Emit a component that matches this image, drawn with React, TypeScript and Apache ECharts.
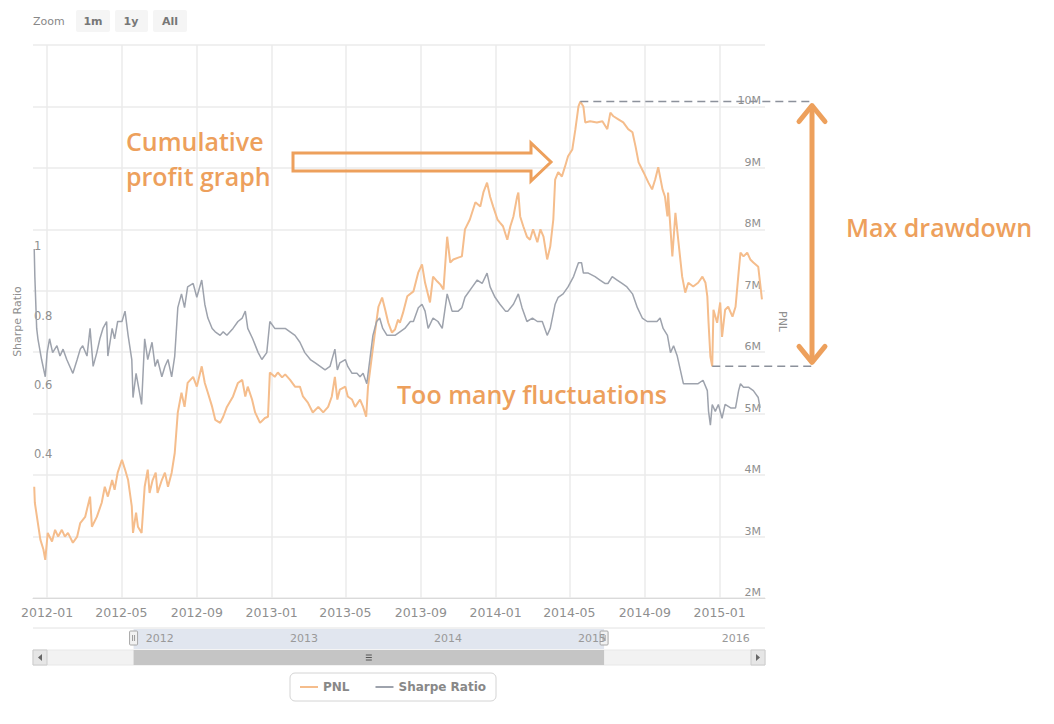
import React, { useEffect, useRef } from 'react';
import * as echarts from 'echarts';

// ---------- data ----------
const pnlDates = [
  '2011-12-11','2011-12-12','2011-12-21','2011-12-26','2011-12-29','2012-01-02','2012-01-09','2012-01-14','2012-01-19','2012-01-25',
  '2012-01-30','2012-02-04','2012-02-12','2012-02-19','2012-02-24','2012-03-03','2012-03-11','2012-03-14','2012-03-22','2012-03-30',
  '2012-04-04','2012-04-09','2012-04-16','2012-04-20','2012-04-25','2012-05-02','2012-05-07','2012-05-12','2012-05-18','2012-05-20',
  '2012-05-25','2012-05-28','2012-06-03','2012-06-08','2012-06-13','2012-06-16','2012-06-21','2012-06-26','2012-06-29','2012-07-06',
  '2012-07-11','2012-07-16','2012-07-22','2012-07-27','2012-08-01','2012-08-07','2012-08-12','2012-08-17','2012-08-26','2012-09-01',
  '2012-09-09','2012-09-14','2012-09-19','2012-09-26','2012-10-01','2012-10-09','2012-10-14','2012-10-20','2012-10-30','2012-11-07',
  '2012-11-14','2012-11-19','2012-11-23','2012-11-30','2012-12-05','2012-12-13','2012-12-21','2012-12-26','2012-12-29','2013-01-06',
  '2013-01-11','2013-01-18','2013-01-23','2013-01-31','2013-02-08','2013-02-16','2013-02-21','2013-03-01','2013-03-09','2013-03-18',
  '2013-03-26','2013-04-03','2013-04-09','2013-04-14','2013-04-18','2013-04-22','2013-05-01','2013-05-05','2013-05-12','2013-05-17',
  '2013-05-25','2013-05-30','2013-06-04','2013-06-07','2013-06-14','2013-06-19','2013-06-24','2013-06-30','2013-07-05','2013-07-10',
  '2013-07-16','2013-07-21','2013-07-26','2013-07-29','2013-08-03','2013-08-10','2013-08-20','2013-08-28','2013-09-03','2013-09-08',
  '2013-09-16','2013-09-21','2013-09-28','2013-10-03','2013-10-08','2013-10-14','2013-10-19','2013-10-24','2013-11-01','2013-11-07',
  '2013-11-12','2013-11-20','2013-11-29','2013-12-07','2013-12-12','2013-12-18','2013-12-23','2013-12-28','2014-01-04','2014-01-08',
  '2014-01-13','2014-01-20','2014-01-25','2014-01-30','2014-02-05','2014-02-07','2014-02-10','2014-02-15','2014-02-21','2014-02-26',
  '2014-03-03','2014-03-10','2014-03-15','2014-03-20','2014-03-26','2014-03-31','2014-04-05','2014-04-08','2014-04-13','2014-04-19',
  '2014-04-24','2014-04-29','2014-05-06','2014-05-11','2014-05-16','2014-05-19','2014-05-24','2014-05-27','2014-06-04','2014-06-15',
  '2014-06-24','2014-07-02','2014-07-07','2014-07-12','2014-07-20','2014-07-28','2014-08-05','2014-08-12','2014-08-17','2014-08-22',
  '2014-08-30','2014-09-07','2014-09-13','2014-09-18','2014-09-23','2014-09-30','2014-10-04','2014-10-08','2014-10-09','2014-10-13',
  '2014-10-16','2014-10-21','2014-10-26','2014-11-01','2014-11-06','2014-11-11','2014-11-19','2014-11-27','2014-12-04','2014-12-09',
  '2014-12-12','2014-12-14','2014-12-17','2014-12-20','2014-12-22','2014-12-28','2015-01-02','2015-01-05','2015-01-10','2015-01-15',
  '2015-01-22','2015-01-27','2015-02-01','2015-02-04','2015-02-09','2015-02-15','2015-02-20','2015-02-25','2015-03-05','2015-03-08',
  '2015-03-11',
];
// PNL in millions
const pnlValues = [
  3.81,3.55,2.95,2.79,2.62,3.06,2.92,3.11,3.00,3.11,
  3.00,3.06,2.90,3.00,3.22,3.32,3.65,3.16,3.32,3.55,
  3.81,3.65,3.92,3.76,4.04,4.25,4.09,3.92,3.49,3.06,
  3.39,3.16,3.06,3.81,4.09,3.71,3.92,4.04,3.71,3.92,
  4.04,3.81,4.04,4.36,5.02,5.34,5.11,5.50,5.60,5.44,
  5.77,5.50,5.34,5.11,4.90,4.85,4.95,5.11,5.28,5.50,
  5.55,5.28,5.44,5.23,5.02,4.85,4.93,4.95,5.67,5.60,
  5.67,5.59,5.64,5.55,5.44,5.44,5.28,5.18,5.02,5.11,
  5.02,5.11,5.28,5.60,5.23,5.39,5.44,5.28,5.23,5.11,
  5.23,5.11,4.95,5.44,5.99,6.37,6.74,6.89,6.69,6.48,
  6.32,6.37,6.53,6.48,6.64,6.91,6.99,7.30,7.43,7.13,
  6.81,7.23,7.15,7.10,7.02,7.88,7.46,7.51,7.54,7.56,
  8.00,8.16,8.44,8.37,8.60,8.76,8.53,8.37,8.16,8.11,
  8.05,7.83,8.05,8.21,8.53,8.60,8.21,8.05,7.88,7.83,
  8.00,7.79,8.00,7.88,7.51,7.72,8.16,8.81,8.93,8.86,
  9.02,9.19,9.30,9.63,10.00,10.08,10.00,9.74,9.76,9.74,
  9.76,9.63,9.90,9.84,9.79,9.74,9.63,9.58,9.35,9.09,
  8.93,8.76,8.65,8.81,9.01,8.65,8.53,8.21,8.60,8.00,
  7.56,8.27,7.79,7.23,6.97,7.13,7.07,7.13,7.23,7.13,
  6.91,6.48,5.93,5.77,6.69,6.48,6.81,6.25,6.69,6.74,
  6.58,6.74,7.30,7.62,7.56,7.62,7.51,7.46,7.39,7.13,
  6.86,
];

const sharpeDates = [
  '2011-12-11','2011-12-12','2011-12-15','2011-12-17','2011-12-23','2011-12-29','2012-01-01','2012-01-05','2012-01-10','2012-01-17',
  '2012-01-22','2012-01-27','2012-02-02','2012-02-07','2012-02-12','2012-02-19','2012-02-24','2012-02-28','2012-03-06','2012-03-11',
  '2012-03-16','2012-03-22','2012-03-27','2012-04-01','2012-04-07','2012-04-09','2012-04-16','2012-04-20','2012-04-25','2012-05-02',
  '2012-05-07','2012-05-12','2012-05-18','2012-05-20','2012-05-25','2012-05-28','2012-06-03','2012-06-08','2012-06-13','2012-06-20',
  '2012-06-25','2012-06-29','2012-07-06','2012-07-11','2012-07-16','2012-07-22','2012-07-27','2012-08-01','2012-08-07','2012-08-12',
  '2012-08-17','2012-08-26','2012-09-01','2012-09-09','2012-09-14','2012-09-19','2012-09-26','2012-10-01','2012-10-09','2012-10-14',
  '2012-10-20','2012-10-30','2012-11-07','2012-11-14','2012-11-19','2012-11-23','2012-12-01','2012-12-10','2012-12-16','2012-12-24',
  '2012-12-29','2013-01-06','2013-01-15','2013-01-23','2013-01-31','2013-02-08','2013-02-16','2013-02-24','2013-03-05','2013-03-13',
  '2013-03-21','2013-03-29','2013-04-06','2013-04-14','2013-04-18','2013-04-22','2013-05-01','2013-05-05','2013-05-12','2013-05-20',
  '2013-05-25','2013-05-30','2013-06-05','2013-06-10','2013-06-15','2013-06-21','2013-06-26','2013-07-01','2013-07-08','2013-07-16',
  '2013-07-21','2013-07-29','2013-08-06','2013-08-15','2013-08-20','2013-08-28','2013-09-03','2013-09-08','2013-09-13','2013-09-21',
  '2013-09-29','2013-10-06','2013-10-14','2013-10-22','2013-11-01','2013-11-07','2013-11-12','2013-11-24','2013-12-02','2013-12-10',
  '2013-12-18','2013-12-23','2013-12-31','2014-01-08','2014-01-17','2014-01-21','2014-01-30','2014-02-07','2014-02-13','2014-02-21',
  '2014-03-02','2014-03-10','2014-03-18','2014-03-26','2014-03-31','2014-04-08','2014-04-13','2014-04-21','2014-04-29','2014-05-08',
  '2014-05-16','2014-05-21','2014-05-24','2014-06-01','2014-06-12','2014-06-20','2014-06-28','2014-07-03','2014-07-10','2014-07-18',
  '2014-07-26','2014-08-03','2014-08-12','2014-08-20','2014-08-28','2014-09-05','2014-09-13','2014-09-21','2014-09-26','2014-10-01',
  '2014-10-08','2014-10-13','2014-10-18','2014-10-24','2014-10-29','2014-11-03','2014-11-11','2014-11-19','2014-11-27','2014-12-05',
  '2014-12-12','2014-12-14','2014-12-17','2014-12-20','2014-12-25','2014-12-30','2015-01-05','2015-01-10','2015-01-19','2015-01-27',
  '2015-02-01','2015-02-04','2015-02-09','2015-02-17','2015-02-25','2015-03-05','2015-03-08',
];
const sharpeValues = [
  1.01,0.93,0.78,0.75,0.69,0.64,0.71,0.75,0.71,0.73,
  0.70,0.72,0.69,0.67,0.65,0.69,0.72,0.73,0.70,0.78,
  0.67,0.71,0.75,0.78,0.80,0.70,0.78,0.75,0.80,0.80,
  0.83,0.76,0.69,0.58,0.65,0.62,0.56,0.75,0.69,0.74,
  0.67,0.69,0.64,0.67,0.69,0.64,0.70,0.84,0.88,0.84,
  0.90,0.91,0.87,0.92,0.85,0.81,0.78,0.77,0.76,0.77,
  0.76,0.78,0.80,0.81,0.83,0.78,0.75,0.71,0.69,0.71,
  0.80,0.78,0.78,0.78,0.77,0.76,0.74,0.71,0.69,0.68,
  0.67,0.66,0.67,0.72,0.66,0.68,0.69,0.67,0.65,0.65,
  0.64,0.65,0.62,0.69,0.76,0.80,0.81,0.78,0.76,0.76,
  0.76,0.77,0.78,0.80,0.80,0.84,0.85,0.83,0.78,0.81,
  0.80,0.78,0.88,0.83,0.83,0.84,0.87,0.90,0.92,0.91,
  0.94,0.90,0.87,0.85,0.83,0.83,0.85,0.88,0.84,0.80,
  0.81,0.80,0.80,0.76,0.78,0.85,0.87,0.88,0.90,0.93,
  0.97,0.97,0.94,0.94,0.93,0.92,0.91,0.91,0.93,0.92,
  0.91,0.90,0.88,0.84,0.81,0.80,0.80,0.80,0.81,0.78,
  0.76,0.71,0.73,0.70,0.66,0.62,0.62,0.62,0.62,0.63,
  0.60,0.54,0.50,0.56,0.54,0.56,0.52,0.56,0.55,0.55,
  0.60,0.62,0.61,0.61,0.60,0.58,0.55,
];

const xTicks = ['2012-01-01','2012-05-01','2012-09-01','2013-01-01','2013-05-01','2013-09-01','2014-01-01','2014-05-01','2014-09-01','2015-01-01'];
const sharpeTicks = [0.4, 0.6, 0.8, 1];
const navTicks = ['2012-01-01','2013-01-01','2014-01-01','2015-01-01','2016-01-01'];
const X_MIN = '2011-12-09';
const X_MAX = '2015-03-16';
const NAV_MIN = '2011-03-29';
const NAV_MAX = '2016-04-27';

const PNL_COLOR = '#f5bd8c';
const SHARPE_COLOR = '#9ea3ad';
const ANN = '#EDA05C';
const LABEL = '#8f8f8f';
const FONT = '"DejaVu Sans", sans-serif';
const ANN_FONT = '600 25px "Open Sans", sans-serif';

const pad = (n: number) => (n < 10 ? '0' + n : '' + n);
const T = (s: string) => (echarts as any).number.parseDate(s).getTime();

export default function App() {
  const ref = useRef<HTMLDivElement>(null);

  useEffect(() => {
    if (!ref.current) return;
    const chart = echarts.init(ref.current, null, { renderer: 'svg' });

    const option: any = {
      animation: false,
      backgroundColor: '#ffffff',
      textStyle: { fontFamily: FONT },
      legend: {
        data: ['PNL', 'Sharpe Ratio'],
        left: 290,
        top: 673,
        orient: 'horizontal',
        icon: 'rect',
        borderColor: '#d4d4d4',
        borderWidth: 1,
        borderRadius: 5,
        padding: [8, 10],
        itemWidth: 18,
        itemHeight: 2,
        itemGap: 26,
        textStyle: { color: '#888', fontWeight: 'bold', fontSize: 12, fontFamily: FONT },
      },
      grid: [
        { left: 33, right: 289, top: 45, bottom: 126 },
        { left: 33, right: 289, top: 628, height: 21 },
      ],
      xAxis: [
        {
          type: 'value',
          gridIndex: 0,
          min: T(X_MIN),
          max: T(X_MAX),
          axisLine: { show: true, lineStyle: { color: '#dadada' } },
          axisTick: { show: false, customValues: xTicks.map(T) },
          axisLabel: {
            customValues: xTicks.map(T),
            color: LABEL,
            fontSize: 12.5,
            margin: 8,
            formatter: (v: number) => {
              const d = new Date(v);
              return d.getFullYear() + '-' + pad(d.getMonth() + 1);
            },
          },
          splitLine: { show: true, lineStyle: { color: '#ebebeb', width: 1.5 } },
        },
        {
          type: 'value',
          gridIndex: 1,
          min: T(NAV_MIN),
          max: T(NAV_MAX),
          position: 'top',
          axisLine: { show: false },
          axisTick: { show: false, customValues: navTicks.map(T) },
          splitLine: { show: false },
          axisLabel: {
            inside: true,
            customValues: navTicks.map(T),
            align: 'left',
            margin: 5,
            padding: [0, 0, 0, 3],
            color: '#999',
            fontSize: 11,
            formatter: (v: number) => String(new Date(v).getFullYear()),
          },
        },
      ],
      yAxis: [
        {
          type: 'value',
          gridIndex: 0,
          position: 'left',
          min: 0,
          max: 1.6,
          axisLine: { show: false },
          axisTick: { show: false, customValues: sharpeTicks },
          splitLine: { show: false },
          axisLabel: {
            inside: true,
            customValues: sharpeTicks,
            margin: 1,
            verticalAlign: 'bottom',
            color: LABEL,
            fontSize: 11.5,
          },
          name: 'Sharpe Ratio',
          nameLocation: 'middle',
          nameRotate: 90,
          nameGap: 10,
          nameTextStyle: { color: LABEL, fontSize: 11 },
        },
        {
          type: 'value',
          gridIndex: 0,
          position: 'right',
          min: 2,
          max: 11,
          interval: 1,
          axisLine: { show: false },
          axisTick: { show: false },
          splitLine: { show: true, lineStyle: { color: '#ebebeb', width: 1.5 } },
          axisLabel: {
            inside: true,
            margin: 4,
            verticalAlign: 'bottom',
            showMaxLabel: false,
            color: LABEL,
            fontSize: 11,
            formatter: (v: number) => v + 'M',
          },
          name: 'PNL',
          nameLocation: 'middle',
          nameRotate: -90,
          nameGap: 12,
          nameTextStyle: { color: LABEL, fontSize: 11 },
        },
        { type: 'value', gridIndex: 1, show: false, min: 0, max: 1 },
      ],
      series: [
        {
          name: 'PNL',
          type: 'line',
          xAxisIndex: 0,
          yAxisIndex: 1,
          symbol: 'none',
          color: PNL_COLOR,
          lineStyle: { color: PNL_COLOR, width: 2 },
          data: pnlDates.map((d, i) => [T(d), pnlValues[i]]),
        },
        {
          name: 'Sharpe Ratio',
          type: 'line',
          xAxisIndex: 0,
          yAxisIndex: 0,
          symbol: 'none',
          color: SHARPE_COLOR,
          lineStyle: { color: SHARPE_COLOR, width: 1.5 },
          data: sharpeDates.map((d, i) => [T(d), sharpeValues[i]]),
        },
      ],
    };

    chart.setOption(option);

    const bandL = chart.convertToPixel({ xAxisIndex: 1 } as any, T(X_MIN)) as number;
    const bandR = chart.convertToPixel({ xAxisIndex: 1 } as any, T(X_MAX)) as number;

    let pi = 0;
    pnlValues.forEach((v, i) => { if (v > pnlValues[pi]) pi = i; });
    let ti = pi;
    for (let i = pi; i < pnlValues.length; i++) if (pnlValues[i] < pnlValues[ti]) ti = i;
    const peak = chart.convertToPixel({ seriesIndex: 0 }, [T(pnlDates[pi]), pnlValues[pi]]) as number[];
    const trough = chart.convertToPixel({ seriesIndex: 0 }, [T(pnlDates[ti]), pnlValues[ti]]) as number[];
    const AX = 812;
    const mid = (bandL + bandR) / 2;

    const els: any[] = [
      // range selector
      { type: 'text', x: 33, y: 21, style: { text: 'Zoom', fill: '#888', font: '11px ' + FONT, verticalAlign: 'middle' } },
      { type: 'rect', shape: { x: 76, y: 10, width: 34, height: 22, r: 2 }, style: { fill: '#f5f5f5' } },
      { type: 'rect', shape: { x: 115, y: 10, width: 33, height: 22, r: 2 }, style: { fill: '#f5f5f5' } },
      { type: 'rect', shape: { x: 153, y: 10, width: 34, height: 22, r: 2 }, style: { fill: '#f5f5f5' } },
      { type: 'text', x: 93, y: 21, style: { text: '1m', fill: '#777', font: 'bold 11px ' + FONT, align: 'center', verticalAlign: 'middle' } },
      { type: 'text', x: 131, y: 21, style: { text: '1y', fill: '#777', font: 'bold 11px ' + FONT, align: 'center', verticalAlign: 'middle' } },
      { type: 'text', x: 170, y: 21, style: { text: 'All', fill: '#777', font: 'bold 11px ' + FONT, align: 'center', verticalAlign: 'middle' } },

      // navigator
      { type: 'line', shape: { x1: 33, y1: 628, x2: 765, y2: 628 }, style: { stroke: '#e2e2e2', lineWidth: 1 } },
      { type: 'rect', z: -1, shape: { x: bandL, y: 629, width: bandR - bandL, height: 20 }, style: { fill: '#e1e6ef' } },
      { type: 'rect', shape: { x: bandL - 4, y: 631, width: 8, height: 14, r: 1 }, style: { fill: '#f2f2f2', stroke: '#a8a8a8', lineWidth: 1 } },
      { type: 'rect', shape: { x: bandR - 4, y: 631, width: 8, height: 14, r: 1 }, style: { fill: '#f2f2f2', stroke: '#a8a8a8', lineWidth: 1 } },
      { type: 'line', shape: { x1: bandL - 1, y1: 635, x2: bandL - 1, y2: 641 }, style: { stroke: '#999', lineWidth: 1 } },
      { type: 'line', shape: { x1: bandL + 1, y1: 635, x2: bandL + 1, y2: 641 }, style: { stroke: '#999', lineWidth: 1 } },
      { type: 'line', shape: { x1: bandR - 1, y1: 635, x2: bandR - 1, y2: 641 }, style: { stroke: '#999', lineWidth: 1 } },
      { type: 'line', shape: { x1: bandR + 1, y1: 635, x2: bandR + 1, y2: 641 }, style: { stroke: '#999', lineWidth: 1 } },

      // scrollbar
      { type: 'rect', shape: { x: 33, y: 650, width: 732, height: 15 }, style: { fill: '#f2f2f2', stroke: '#e8e8e8', lineWidth: 1 } },
      { type: 'rect', shape: { x: bandL, y: 650, width: bandR - bandL, height: 15 }, style: { fill: '#c5c5c5' } },
      { type: 'line', shape: { x1: mid - 3, y1: 655, x2: mid + 3, y2: 655 }, style: { stroke: '#555', lineWidth: 1 } },
      { type: 'line', shape: { x1: mid - 3, y1: 657.5, x2: mid + 3, y2: 657.5 }, style: { stroke: '#555', lineWidth: 1 } },
      { type: 'line', shape: { x1: mid - 3, y1: 660, x2: mid + 3, y2: 660 }, style: { stroke: '#555', lineWidth: 1 } },
      { type: 'rect', shape: { x: 33, y: 650, width: 14, height: 15 }, style: { fill: '#e6e6e6', stroke: '#cccccc', lineWidth: 1 } },
      { type: 'rect', shape: { x: 751, y: 650, width: 14, height: 15 }, style: { fill: '#e6e6e6', stroke: '#cccccc', lineWidth: 1 } },
      { type: 'polygon', shape: { points: [[42, 654], [38, 657.5], [42, 661]] }, style: { fill: '#666' } },
      { type: 'polygon', shape: { points: [[756, 654], [760, 657.5], [756, 661]] }, style: { fill: '#666' } },

      // annotations
      { type: 'text', z: 100, x: 126, y: 141, style: { text: 'Cumulative', fill: ANN, font: ANN_FONT, verticalAlign: 'middle' } },
      { type: 'text', z: 100, x: 126, y: 176, style: { text: 'profit graph', fill: ANN, font: ANN_FONT, verticalAlign: 'middle' } },
      {
        type: 'polygon', z: 100,
        shape: { points: [[293, 153], [531, 153], [531, 143], [551, 162], [531, 181], [531, 171], [293, 171]] },
        style: { fill: 'rgba(255,255,255,0)', stroke: ANN, lineWidth: 3, lineJoin: 'miter' },
      },
      { type: 'text', z: 100, x: 846, y: 227, style: { text: 'Max drawdown', fill: ANN, font: ANN_FONT, verticalAlign: 'middle' } },
      { type: 'text', z: 100, x: 397, y: 394, style: { text: 'Too many fluctuations', fill: ANN, font: ANN_FONT, verticalAlign: 'middle' } },

      // drawdown markers
      { type: 'line', z: 99, shape: { x1: peak[0], y1: peak[1], x2: AX, y2: peak[1] }, style: { stroke: '#8c919b', lineWidth: 1.5, lineDash: [8, 5] } },
      { type: 'line', z: 99, shape: { x1: trough[0], y1: trough[1], x2: AX, y2: trough[1] }, style: { stroke: '#8c919b', lineWidth: 1.5, lineDash: [8, 5] } },
      { type: 'line', z: 100, shape: { x1: AX, y1: peak[1] + 4, x2: AX, y2: trough[1] - 4 }, style: { stroke: ANN, lineWidth: 5 } },
      {
        type: 'polyline', z: 100,
        shape: { points: [[AX - 13, peak[1] + 20], [AX, peak[1] + 4], [AX + 13, peak[1] + 20]] },
        style: { stroke: ANN, lineWidth: 5, lineCap: 'round', lineJoin: 'round', fill: null },
      },
      {
        type: 'polyline', z: 100,
        shape: { points: [[AX - 13, trough[1] - 20], [AX, trough[1] - 4], [AX + 13, trough[1] - 20]] },
        style: { stroke: ANN, lineWidth: 5, lineCap: 'round', lineJoin: 'round', fill: null },
      },
    ];
    els.forEach((e) => { e.silent = true; });

    chart.setOption({ graphic: { elements: els } });

    return () => { chart.dispose(); };
  }, []);

  return (
    <div
      ref={ref}
      style={{ position: 'fixed', left: 0, top: 0, width: 1054, height: 724, background: '#fff' }}
    />
  );
}
